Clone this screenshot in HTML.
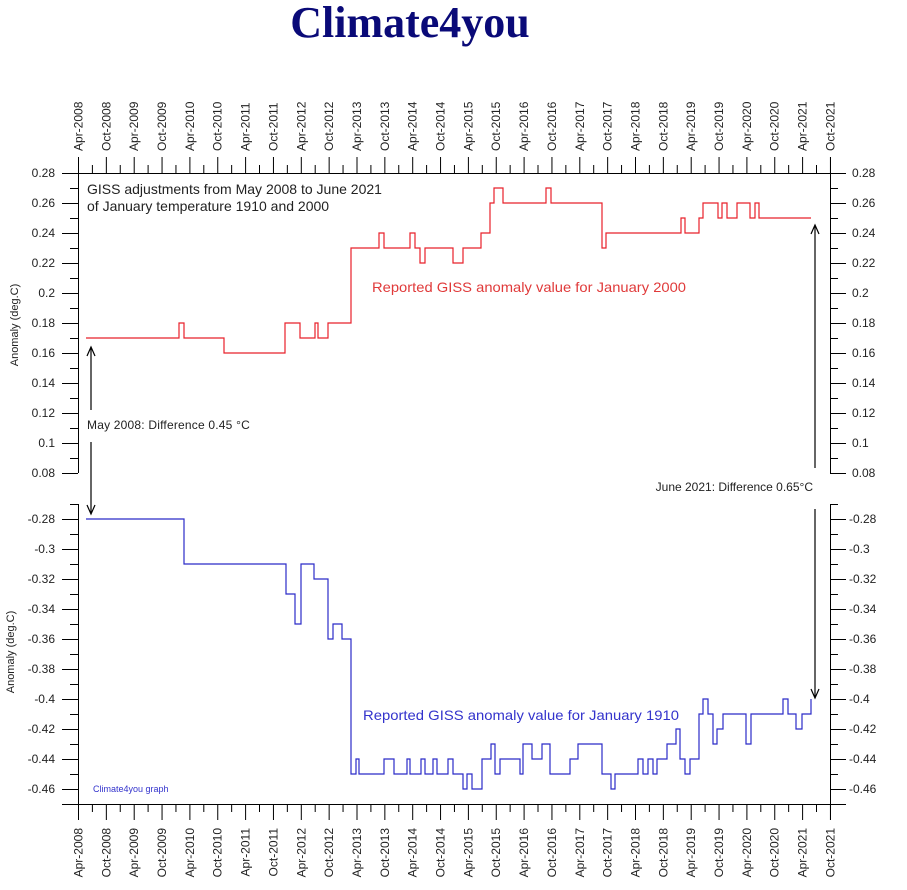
<!DOCTYPE html>
<html><head><meta charset="utf-8"><style>
html,body{margin:0;padding:0;background:#fff;}
svg{display:block;}
</style></head><body>
<svg width="907" height="890" viewBox="0 0 907 890" xmlns="http://www.w3.org/2000/svg" font-family="Liberation Sans, sans-serif">
<rect width="907" height="890" fill="#fff"/>
<text x="410" y="37" text-anchor="middle" font-family="Liberation Serif, serif" font-weight="bold" font-size="44" fill="#0a0a78">Climate4you</text>

<g stroke="#000" fill="none">
<line x1="62" y1="173.5" x2="846" y2="173.5"/>
<line x1="62" y1="804.5" x2="846" y2="804.5"/>
<line x1="78.5" y1="157" x2="78.5" y2="473"/>
<line x1="78.5" y1="504" x2="78.5" y2="820"/>
<line x1="830.5" y1="157" x2="830.5" y2="473"/>
<line x1="830.5" y1="504" x2="830.5" y2="820"/>
<line x1="78" y1="165" x2="832" y2="165" stroke-width="16" stroke-dasharray="1 26.85"/>
<line x1="91.9" y1="169" x2="832" y2="169" stroke-width="8" stroke-dasharray="1 26.85"/>
<line x1="78" y1="812" x2="832" y2="812" stroke-width="16" stroke-dasharray="1 26.85"/>
<line x1="91.9" y1="808" x2="832" y2="808" stroke-width="8" stroke-dasharray="1 26.85"/>
<line x1="70" y1="173" x2="70" y2="475" stroke-width="16" stroke-dasharray="1 29"/>
<line x1="74" y1="188" x2="74" y2="475" stroke-width="8" stroke-dasharray="1 29"/>
<line x1="70" y1="519" x2="70" y2="791" stroke-width="16" stroke-dasharray="1 29"/>
<line x1="74" y1="504" x2="74" y2="804" stroke-width="8" stroke-dasharray="1 29"/>
<line x1="838" y1="173" x2="838" y2="475" stroke-width="16" stroke-dasharray="1 29"/>
<line x1="834" y1="188" x2="834" y2="475" stroke-width="8" stroke-dasharray="1 29"/>
<line x1="838" y1="519" x2="838" y2="791" stroke-width="16" stroke-dasharray="1 29"/>
<line x1="834" y1="504" x2="834" y2="804" stroke-width="8" stroke-dasharray="1 29"/>
</g>

<polyline fill="none" stroke="#e8202a" stroke-width="1.2" points="86,338 179,338 179,323 184,323 184,338 224,338 224,353 285,353 285,323 300,323 300,338 315,338 315,323 318,323 318,338 328,338 328,323 351,323 351,248 379,248 379,233 384,233 384,248 410,248 410,233 415,233 415,248 420,248 420,263 425,263 425,248 453,248 453,263 463,263 463,248 481,248 481,233 490,233 490,203 494,203 494,188 503,188 503,203 546,203 546,188 551,188 551,203 602,203 602,248 606,248 606,233 681,233 681,218 685,218 685,233 699,233 699,218 703,218 703,203 718,203 718,218 722,218 722,203 727,203 727,218 737,218 737,203 750,203 750,218 755,218 755,203 759,203 759,218 811,218"/>
<polyline fill="none" stroke="#2b2bc8" stroke-width="1.2" points="86,519 184,519 184,564 286,564 286,594 295,594 295,624 301,624 301,564 314,564 314,579 328,579 328,639 333,639 333,624 342,624 342,639 351,639 351,774 356,774 356,759 359,759 359,774 384,774 384,759 394,759 394,774 407,774 407,759 410,759 410,774 421,774 421,759 425,759 425,774 433,774 433,759 437,759 437,774 448,774 448,759 453,759 453,774 463,774 463,789 467,789 467,774 472,774 472,789 482,789 482,759 491,759 491,744 495,744 495,774 500,774 500,759 520,759 520,774 523,774 523,744 532,744 532,759 542,759 542,744 550,744 550,774 570,774 570,759 578,759 578,744 602,744 602,774 611,774 611,789 615,789 615,774 638,774 638,759 643,759 643,774 648,774 648,759 653,759 653,774 657,774 657,759 667,759 667,744 676,744 676,729 680,729 680,759 685,759 685,774 690,774 690,759 699,759 699,714 703,714 703,699 708,699 708,714 713,714 713,744 717,744 717,729 723,729 723,714 746,714 746,744 751,744 751,714 783,714 783,699 788,699 788,714 796,714 796,729 802,729 802,714 811,714 811,699"/>

<g stroke="#000" fill="none" stroke-width="1.2">
<line x1="91" y1="348" x2="91" y2="410"/>
<polyline points="87,356 91,347 95,356"/>
<line x1="91" y1="442" x2="91" y2="513"/>
<polyline points="87,505 91,514 95,505"/>
<line x1="815" y1="226" x2="815" y2="468"/>
<polyline points="811,234 815,225 819,234"/>
<line x1="815" y1="509" x2="815" y2="697"/>
<polyline points="811,689 815,698 819,689"/>
</g>

<g font-size="12" fill="#222">
<text x="87" y="429" letter-spacing="0.2">May 2008: Difference 0.45 °C</text>
<text x="813" y="491" text-anchor="end">June 2021: Difference 0.65°C</text>
</g>
<g font-size="14" fill="#222">
<text x="87" y="194">GISS adjustments from May 2008 to June 2021</text>
<text x="87" y="211">of January temperature 1910 and 2000</text>
</g>
<text x="372" y="292" font-size="14" fill="#e03a3a" textLength="314" lengthAdjust="spacingAndGlyphs">Reported GISS anomaly value for January 2000</text>
<text x="363" y="720" font-size="14" fill="#3333cc" textLength="316" lengthAdjust="spacingAndGlyphs">Reported GISS anomaly value for January 1910</text>
<text x="93" y="792" font-size="9" fill="#3333cc">Climate4you graph</text>

<g font-size="12" fill="#222" text-anchor="end">
<text x="55" y="177">0.28</text><text x="55" y="207">0.26</text><text x="55" y="237">0.24</text><text x="55" y="267">0.22</text><text x="55" y="297">0.2</text><text x="55" y="327">0.18</text><text x="55" y="357">0.16</text><text x="55" y="387">0.14</text><text x="55" y="417">0.12</text><text x="55" y="447">0.1</text><text x="55" y="477">0.08</text>
<text x="55" y="523">-0.28</text><text x="55" y="553">-0.3</text><text x="55" y="583">-0.32</text><text x="55" y="613">-0.34</text><text x="55" y="643">-0.36</text><text x="55" y="673">-0.38</text><text x="55" y="703">-0.4</text><text x="55" y="733">-0.42</text><text x="55" y="763">-0.44</text><text x="55" y="793">-0.46</text>
</g>
<g font-size="12" fill="#222">
<text x="852" y="177">0.28</text><text x="852" y="207">0.26</text><text x="852" y="237">0.24</text><text x="852" y="267">0.22</text><text x="852" y="297">0.2</text><text x="852" y="327">0.18</text><text x="852" y="357">0.16</text><text x="852" y="387">0.14</text><text x="852" y="417">0.12</text><text x="852" y="447">0.1</text><text x="852" y="477">0.08</text>
<text x="849" y="523">-0.28</text><text x="849" y="553">-0.3</text><text x="849" y="583">-0.32</text><text x="849" y="613">-0.34</text><text x="849" y="643">-0.36</text><text x="849" y="673">-0.38</text><text x="849" y="703">-0.4</text><text x="849" y="733">-0.42</text><text x="849" y="763">-0.44</text><text x="849" y="793">-0.46</text>
</g>
<g font-size="11" fill="#222" text-anchor="middle">
<text transform="translate(18,325) rotate(-90)">Anomaly (deg.C)</text>
<text transform="translate(14,652) rotate(-90)">Anomaly (deg.C)</text>
</g>

<g font-size="12" fill="#222">
<text transform="translate(82.5,151) rotate(-90)">Apr-2008</text>
<text transform="translate(110.3,151) rotate(-90)">Oct-2008</text>
<text transform="translate(138.2,151) rotate(-90)">Apr-2009</text>
<text transform="translate(166,151) rotate(-90)">Oct-2009</text>
<text transform="translate(193.9,151) rotate(-90)">Apr-2010</text>
<text transform="translate(221.7,151) rotate(-90)">Oct-2010</text>
<text transform="translate(249.6,151) rotate(-90)">Apr-2011</text>
<text transform="translate(277.4,151) rotate(-90)">Oct-2011</text>
<text transform="translate(305.3,151) rotate(-90)">Apr-2012</text>
<text transform="translate(333.1,151) rotate(-90)">Oct-2012</text>
<text transform="translate(361,151) rotate(-90)">Apr-2013</text>
<text transform="translate(388.8,151) rotate(-90)">Oct-2013</text>
<text transform="translate(416.7,151) rotate(-90)">Apr-2014</text>
<text transform="translate(444.5,151) rotate(-90)">Oct-2014</text>
<text transform="translate(472.4,151) rotate(-90)">Apr-2015</text>
<text transform="translate(500.2,151) rotate(-90)">Oct-2015</text>
<text transform="translate(528.1,151) rotate(-90)">Apr-2016</text>
<text transform="translate(555.9,151) rotate(-90)">Oct-2016</text>
<text transform="translate(583.8,151) rotate(-90)">Apr-2017</text>
<text transform="translate(611.6,151) rotate(-90)">Oct-2017</text>
<text transform="translate(639.5,151) rotate(-90)">Apr-2018</text>
<text transform="translate(667.3,151) rotate(-90)">Oct-2018</text>
<text transform="translate(695.2,151) rotate(-90)">Apr-2019</text>
<text transform="translate(723,151) rotate(-90)">Oct-2019</text>
<text transform="translate(750.9,151) rotate(-90)">Apr-2020</text>
<text transform="translate(778.7,151) rotate(-90)">Oct-2020</text>
<text transform="translate(806.6,151) rotate(-90)">Apr-2021</text>
<text transform="translate(834.5,151) rotate(-90)">Oct-2021</text>
</g>
<g font-size="12" fill="#222" text-anchor="end">
<text transform="translate(82.5,828) rotate(-90)">Apr-2008</text>
<text transform="translate(110.3,828) rotate(-90)">Oct-2008</text>
<text transform="translate(138.2,828) rotate(-90)">Apr-2009</text>
<text transform="translate(166,828) rotate(-90)">Oct-2009</text>
<text transform="translate(193.9,828) rotate(-90)">Apr-2010</text>
<text transform="translate(221.7,828) rotate(-90)">Oct-2010</text>
<text transform="translate(249.6,828) rotate(-90)">Apr-2011</text>
<text transform="translate(277.4,828) rotate(-90)">Oct-2011</text>
<text transform="translate(305.3,828) rotate(-90)">Apr-2012</text>
<text transform="translate(333.1,828) rotate(-90)">Oct-2012</text>
<text transform="translate(361,828) rotate(-90)">Apr-2013</text>
<text transform="translate(388.8,828) rotate(-90)">Oct-2013</text>
<text transform="translate(416.7,828) rotate(-90)">Apr-2014</text>
<text transform="translate(444.5,828) rotate(-90)">Oct-2014</text>
<text transform="translate(472.4,828) rotate(-90)">Apr-2015</text>
<text transform="translate(500.2,828) rotate(-90)">Oct-2015</text>
<text transform="translate(528.1,828) rotate(-90)">Apr-2016</text>
<text transform="translate(555.9,828) rotate(-90)">Oct-2016</text>
<text transform="translate(583.8,828) rotate(-90)">Apr-2017</text>
<text transform="translate(611.6,828) rotate(-90)">Oct-2017</text>
<text transform="translate(639.5,828) rotate(-90)">Apr-2018</text>
<text transform="translate(667.3,828) rotate(-90)">Oct-2018</text>
<text transform="translate(695.2,828) rotate(-90)">Apr-2019</text>
<text transform="translate(723,828) rotate(-90)">Oct-2019</text>
<text transform="translate(750.9,828) rotate(-90)">Apr-2020</text>
<text transform="translate(778.7,828) rotate(-90)">Oct-2020</text>
<text transform="translate(806.6,828) rotate(-90)">Apr-2021</text>
<text transform="translate(834.5,828) rotate(-90)">Oct-2021</text>
</g>
</svg>
</body></html>
